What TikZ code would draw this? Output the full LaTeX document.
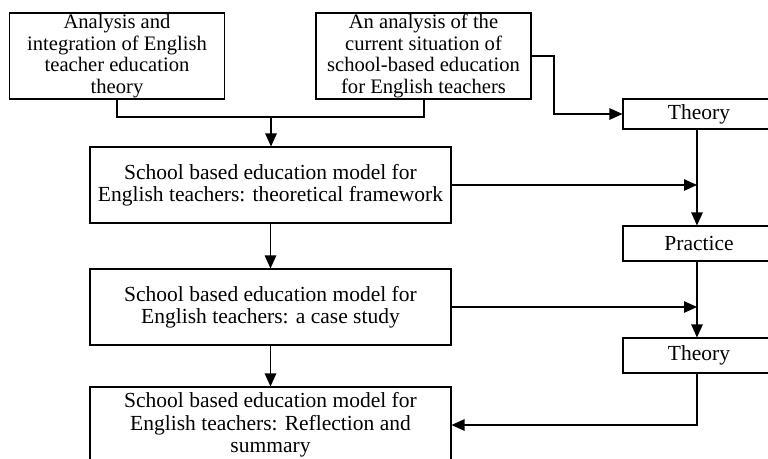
\documentclass[tikz,border=0pt]{standalone}
\usepackage{fontspec}
\setmainfont{Liberation Serif}
\usetikzlibrary{arrows.meta}
\begin{document}
\begin{tikzpicture}[x=1pt,y=-1pt,
  box/.style={draw,line width=1.1pt,inner sep=0pt,align=center,
    font=\fontsize{21.5}{22.5}\selectfont},
  smallbox/.style={box,font=\fontsize{20.6}{21.7}\selectfont},
  line/.style={line width=1.2pt},
  arr/.style={line width=1.2pt,-{Triangle[length=13pt,width=11.5pt]}}]
\useasboundingbox (0,0) rectangle (768,458);
\node[smallbox,minimum width=215,minimum height=86] (A) at (117,56)
  {Analysis and\\integration of English\\teacher education\\theory};
\node[smallbox,minimum width=215,minimum height=86] (B) at (423.5,56)
  {An analysis of the\\current situation of\\school-based education\\for English teachers};
\node[box,minimum width=361,minimum height=76] (C) at (270.5,185)
  {School based education model for\\English teachers: theoretical framework};
\node[box,minimum width=361,minimum height=76] (D) at (270.5,307)
  {School based education model for\\English teachers: a case study};
\node[box,minimum width=361,minimum height=76] (E) at (270.5,425)
  {School based education model for\\English teachers: Reflection and\\summary};
\node[box,minimum width=152,minimum height=30] (T1) at (699,114) {Theory};
\node[box,minimum width=152,minimum height=35] (P) at (699,243.5) {Practice};
\node[box,minimum width=152,minimum height=35] (T2) at (699,355.5) {Theory};
\coordinate (vx) at (697,0);
\coordinate (j) at (271,117);
\coordinate (bx) at (554,0);
\draw[line] (A.south) |- (j) -| (B.south -| 424,0);
\draw[arr] (j) -- (C.north -| j);
\draw[arr] (B.east) -- (B.east -| bx) |- (T1.west);
\draw[arr] (T1.south -| vx) -- (P.north -| vx);
\draw[arr] (P.south -| vx) -- (T2.north -| vx);
\draw[arr] (C.east) -- (C.east -| vx);
\draw[arr] (D.east) -- (D.east -| vx);
\draw[arr] (T2.south -| vx) |- (E.east);
\draw[arr] (C.south) -- (D.north);
\draw[arr] (D.south) -- (E.north);
\end{tikzpicture}
\end{document}
